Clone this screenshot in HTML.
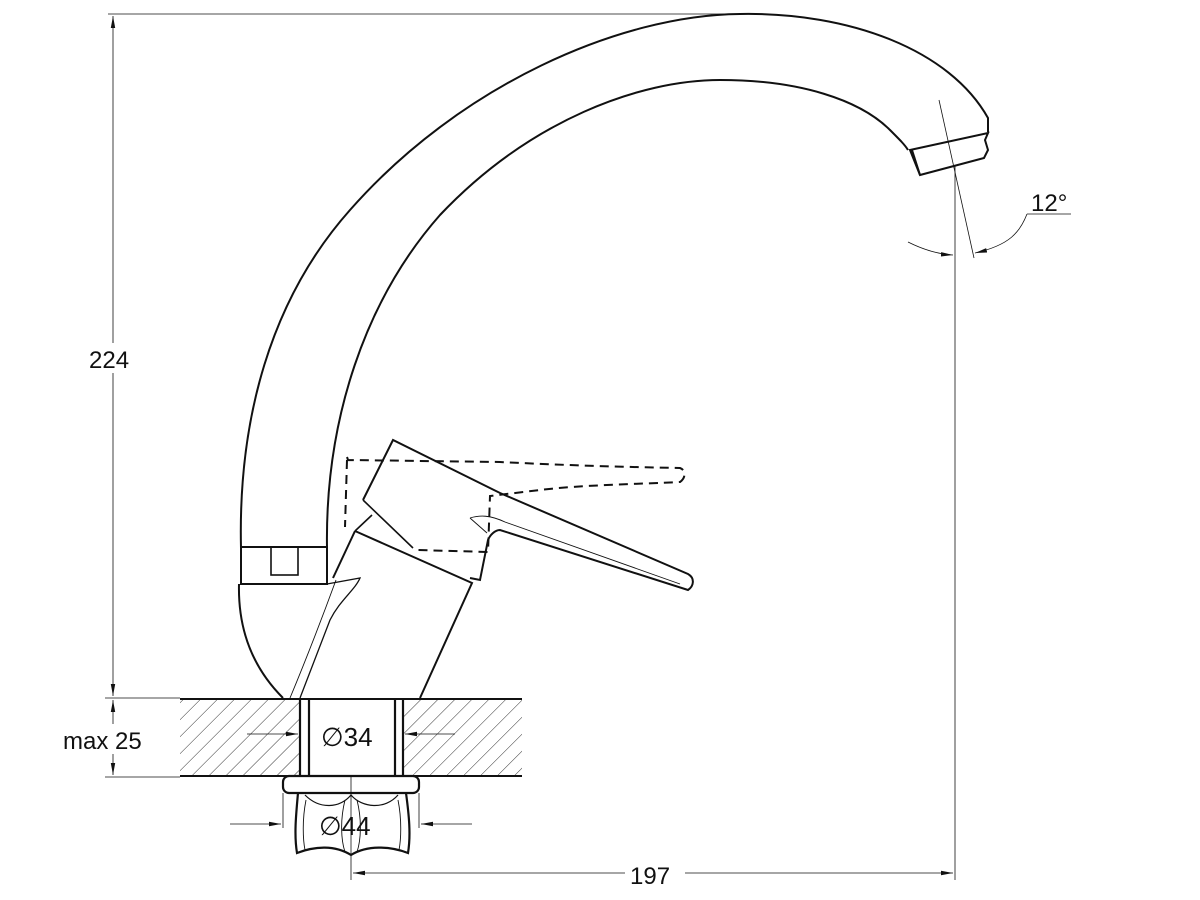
<!DOCTYPE html>
<html><head><meta charset="utf-8"><style>
html,body{margin:0;padding:0;background:#fff;width:1200px;height:900px;overflow:hidden}
svg{display:block}
text{font-family:"Liberation Sans",sans-serif;fill:#111}
</style></head><body>
<svg width="1200" height="900" viewBox="0 0 1200 900" xmlns="http://www.w3.org/2000/svg">
<defs>
<pattern id="h" patternUnits="userSpaceOnUse" width="12" height="12" patternTransform="rotate(45)">
<line x1="0" y1="0" x2="0" y2="12" stroke="#333" stroke-width="1"/>
</pattern>
<marker id="a" markerWidth="12" markerHeight="6" refX="12" refY="3" orient="auto" markerUnits="userSpaceOnUse">
<path d="M0,0.8 L12,3 L0,5.2z" fill="#111"/>
</marker>
</defs>
<g fill="none" stroke="#111" stroke-width="1.2">
<!-- countertop -->
<rect x="180" y="699" width="120" height="77" fill="url(#h)" stroke="none"/>
<rect x="404" y="699" width="118" height="77" fill="url(#h)" stroke="none"/>
<line x1="180" y1="699" x2="522" y2="699" stroke-width="2"/>
<line x1="180" y1="776" x2="522" y2="776" stroke-width="2"/>
<line x1="300" y1="699" x2="300" y2="776" stroke-width="2.2"/>
<line x1="309" y1="699" x2="309" y2="776" stroke-width="2.2"/>
<line x1="395" y1="699" x2="395" y2="776" stroke-width="2.2"/>
<line x1="403" y1="699" x2="403" y2="776" stroke-width="2.2"/>
<!-- nut -->
<rect x="283" y="776" width="136" height="17" rx="6" stroke-width="2.2" fill="#fff"/>
<path d="M298,793 C296,815 294,835 297,853 C315,846 335,845 351,855 C367,845 390,846 408,853 C411,835 409,815 406,793" stroke-width="2.2"/>
<path d="M305,795 C320,810 340,808 351,795 C362,808 385,810 398,795" stroke-width="1.2"/>
<path d="M306,800 C302,820 303,840 305,850 M398,800 C402,820 401,840 399,850 M345,800 C340,820 341,840 345,852 M357,800 C362,820 361,840 357,852" stroke-width="0.9"/>
<line x1="351" y1="776" x2="351" y2="880" stroke-width="0.8"/>
<line x1="283" y1="793" x2="283" y2="828" stroke-width="0.8"/>
<line x1="419" y1="793" x2="419" y2="828" stroke-width="0.8"/>
<!-- spout -->
<path d="M241,548 C238,420 270,300 350,210 C460,85 620,15 740,14 C850,12 950,50 988,118 L988,132" stroke-width="2"/>
<path d="M327,548 C325,420 365,300 440,215 C530,120 640,80 720,80 C800,80 860,100 890,130 C900,140 905,145 908,150" stroke-width="2"/>
<path d="M910,150 L988,133 L985,140 L988,150 L984,158 L920,175 Z" stroke-width="2"/>
<line x1="912" y1="150" x2="920" y2="175" stroke-width="2"/>
<!-- ring -->
<rect x="241" y="547" width="86" height="37" stroke-width="2"/>
<rect x="271" y="547" width="27" height="28" stroke-width="1.6"/>
<!-- base body -->
<path d="M239,584 C238,625 250,665 283,698" stroke-width="2"/>
<path d="M327,584 L360,578 C355,590 340,600 330,620 L300,698" stroke-width="1.3"/>
<path d="M336,580 C325,610 310,650 290,698" stroke-width="0.9"/>
<!-- cartridge -->
<path d="M355,531 L472,583 L420,698" stroke-width="2"/>
<path d="M355,531 L333,578" stroke-width="2"/>
<!-- handle -->
<path d="M363,500 L393,440 L500,493 L688,574 C695,578 694,586 688,590 L500,530 C495,530 490,535 488,540 L480,580 L470,578" stroke-width="2"/>
<path d="M363,500 L413,548" stroke-width="1.6"/>
<path d="M372,515 L355,531" stroke-width="1.6"/>
<path d="M470,518 C480,515 490,515 505,522 L680,584" stroke-width="0.9"/>
<path d="M470,518 L487,533" stroke-width="0.9"/>
<!-- dashed handle -->
<path d="M347,457 L348,460 L500,462 C560,465 620,467 680,468 C686,470 686,478 680,482 C640,484 580,485 540,490 L490,496 L488,552 L418,550 M347,460 L345,527" stroke-width="2" stroke-dasharray="9,6"/>
<!-- 224 dimension -->
<line x1="108" y1="14" x2="740" y2="14" stroke-width="0.8"/>
<line x1="113" y1="360" x2="113" y2="16" stroke-width="0.8" marker-end="url(#a)"/>
<line x1="113" y1="360" x2="113" y2="696" stroke-width="0.8" marker-end="url(#a)"/>
<line x1="105" y1="698" x2="180" y2="698" stroke-width="0.8"/>
<line x1="105" y1="777" x2="180" y2="777" stroke-width="0.8"/>
<line x1="113" y1="737" x2="113" y2="700" stroke-width="0.8" marker-end="url(#a)"/>
<line x1="113" y1="737" x2="113" y2="775" stroke-width="0.8" marker-end="url(#a)"/>
<!-- Ø34 arrows -->
<line x1="247" y1="734" x2="298" y2="734" stroke-width="0.8" marker-end="url(#a)"/>
<line x1="455" y1="734" x2="405" y2="734" stroke-width="0.8" marker-end="url(#a)"/>
<!-- Ø44 arrows -->
<line x1="230" y1="824" x2="281" y2="824" stroke-width="0.8" marker-end="url(#a)"/>
<line x1="472" y1="824" x2="421" y2="824" stroke-width="0.8" marker-end="url(#a)"/>
<!-- 197 -->
<line x1="955" y1="165" x2="955" y2="880" stroke-width="0.8"/>
<line x1="625" y1="873" x2="353" y2="873" stroke-width="0.8" marker-end="url(#a)"/>
<line x1="685" y1="873" x2="953" y2="873" stroke-width="0.8" marker-end="url(#a)"/>
<!-- 12 deg -->
<line x1="939" y1="100" x2="974" y2="258" stroke-width="0.8"/>
<path d="M908,242 C920,248 935,254 953,255" stroke-width="0.8" marker-end="url(#a)"/>
<path d="M1027,214 C1020,232 1010,245 975,253" stroke-width="0.8" marker-end="url(#a)"/>
<line x1="1027" y1="214" x2="1071" y2="214" stroke-width="0.8"/>
</g>
<rect x="88" y="343" width="52" height="30" fill="#fff"/>
<rect x="62" y="724" width="104" height="30" fill="#fff"/>
<text x="89" y="368" font-size="24">224</text>
<text x="63" y="749" font-size="24">max 25</text>
<text x="321" y="746" font-size="26">∅34</text>
<text x="319" y="835" font-size="26">∅44</text>
<text x="630" y="884" font-size="24">197</text>
<text x="1031" y="211" font-size="24">12°</text>
</svg>
</body></html>
